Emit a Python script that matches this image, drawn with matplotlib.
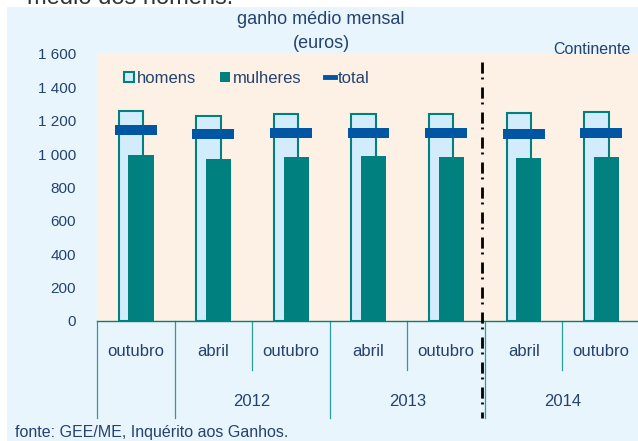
import numpy as np
import matplotlib
matplotlib.use('Agg')
import matplotlib.pyplot as plt
from matplotlib.patches import Patch, Rectangle
from matplotlib.lines import Line2D
import matplotlib.transforms as mtransforms

plt.rcParams['font.family'] = ['Liberation Sans', 'DejaVu Sans']

# data (euros)
months = ['outubro', 'abril', 'outubro', 'abril', 'outubro', 'abril', 'outubro']
years = ['', '2012', '2013', '2014']
year_sizes = [1, 2, 2, 2]
homens = [1257, 1231, 1239, 1239, 1241, 1247, 1252]
mulheres = [995, 971, 985, 989, 985, 977, 983]
total = [1145, 1119, 1129, 1129, 1129, 1123, 1129]

teal = '#00807f'
sep_teal = '#2a9d9a'
light = '#d3ecfc'
blue = '#0056a2'
navy = '#24426f'
bg_blue = '#e9f5fd'
peach = '#fdf1e6'

W, H = 638, 441
fig = plt.figure(figsize=(W/100, H/100), dpi=100, facecolor='white')
fig.patches.append(Rectangle((7/W, 0), 1, 1 - 7/H, transform=fig.transFigure,
                             facecolor=bg_blue, edgecolor='none', zorder=-10))

ax = fig.add_axes([97/W, (H-321)/H, 543/W, 267/H])
ax.set_facecolor(peach)

x = np.arange(len(months))
ax.bar(x - 0.062, homens, width=0.315, facecolor=light, edgecolor=teal, linewidth=1.5, zorder=2)
ax.bar(x + 0.067, mulheres, width=0.323, color=teal, linewidth=0, zorder=3)
ax.hlines(total, x - 0.27, x + 0.27, colors=blue, linewidth=7.2, zorder=4)

ax.set_xlim(-0.5, len(months) - 0.5)
ax.set_ylim(0, 1600)
ax.set_yticks(range(0, 1601, 200))
ax.set_yticklabels(['{:,}'.format(v).replace(',', ' ') for v in range(0, 1601, 200)],
                   fontsize=11, color=navy)
ax.tick_params(axis='y', length=0, pad=15)
ax.set_xticks([])
for s in ['top', 'right', 'left']:
    ax.spines[s].set_visible(False)
ax.spines['bottom'].set_color(teal)
ax.spines['bottom'].set_linewidth(1)

# category axis labels
trans = mtransforms.blended_transform_factory(ax.transData, ax.transAxes)
def fy(py):
    return (321 - py) / 267

for i, m in enumerate(months):
    ax.text(i, fy(352), m, transform=trans, ha='center', va='center', fontsize=12, color=navy)

bounds = np.cumsum([0] + year_sizes) - 0.5
for b in bounds[:-1]:
    ax.plot([b, b], [0, fy(418)], transform=trans, color=sep_teal, lw=0.9, clip_on=False)
start = 0
for yr, n in zip(years, year_sizes):
    for k in range(1, n):
        b = start + k - 0.5
        ax.plot([b, b], [0, fy(370)], transform=trans, color=sep_teal, lw=0.9, clip_on=False)
    ax.text(start + (n - 1) / 2, fy(401), yr, transform=trans, ha='center', va='center',
            fontsize=12, color=navy)
    start += n

# separator between 2013 and 2014 series
ax.plot([4.46, 4.46], [fy(62), fy(418)], transform=trans, color='black', lw=2,
        linestyle=(0, (4, 1.4, 0.7, 2.9)), clip_on=False, zorder=5)

handles = [Patch(facecolor=light, edgecolor=teal, linewidth=1.5),
           Patch(facecolor=teal, edgecolor='none'),
           Line2D([], [], color=blue, lw=3.5)]
leg = ax.legend(handles, ['homens', 'mulheres', 'total'], loc='upper left',
                bbox_to_anchor=(0.049, 0.937), ncol=3, frameon=False, fontsize=12,
                handlelength=0.6, handleheight=0.6, handletextpad=0.2,
                columnspacing=1.4, borderpad=0, borderaxespad=0)
for t in leg.get_texts():
    t.set_color(navy)

fig.text(321/W, 1 - 20/H, 'ganho médio mensal', ha='center', va='center', fontsize=13, color=navy)
fig.text(321/W, 1 - 44/H, '(euros)', ha='center', va='center', fontsize=13, color=navy)
fig.text(631/W, 1 - 49/H, 'Continente', ha='right', va='center', fontsize=11.5, color=navy)
fig.text(15/W, 1 - 432/H, 'fonte: GEE/ME, Inquérito aos Ganhos.', ha='left', va='center',
         fontsize=11.5, color=navy)
fig.text(27/W, 1 - 4/H, 'médio dos homens.', ha='left', va='baseline', fontsize=17, color='#333333')

fig.savefig('out.png', dpi=100, facecolor=fig.get_facecolor())
